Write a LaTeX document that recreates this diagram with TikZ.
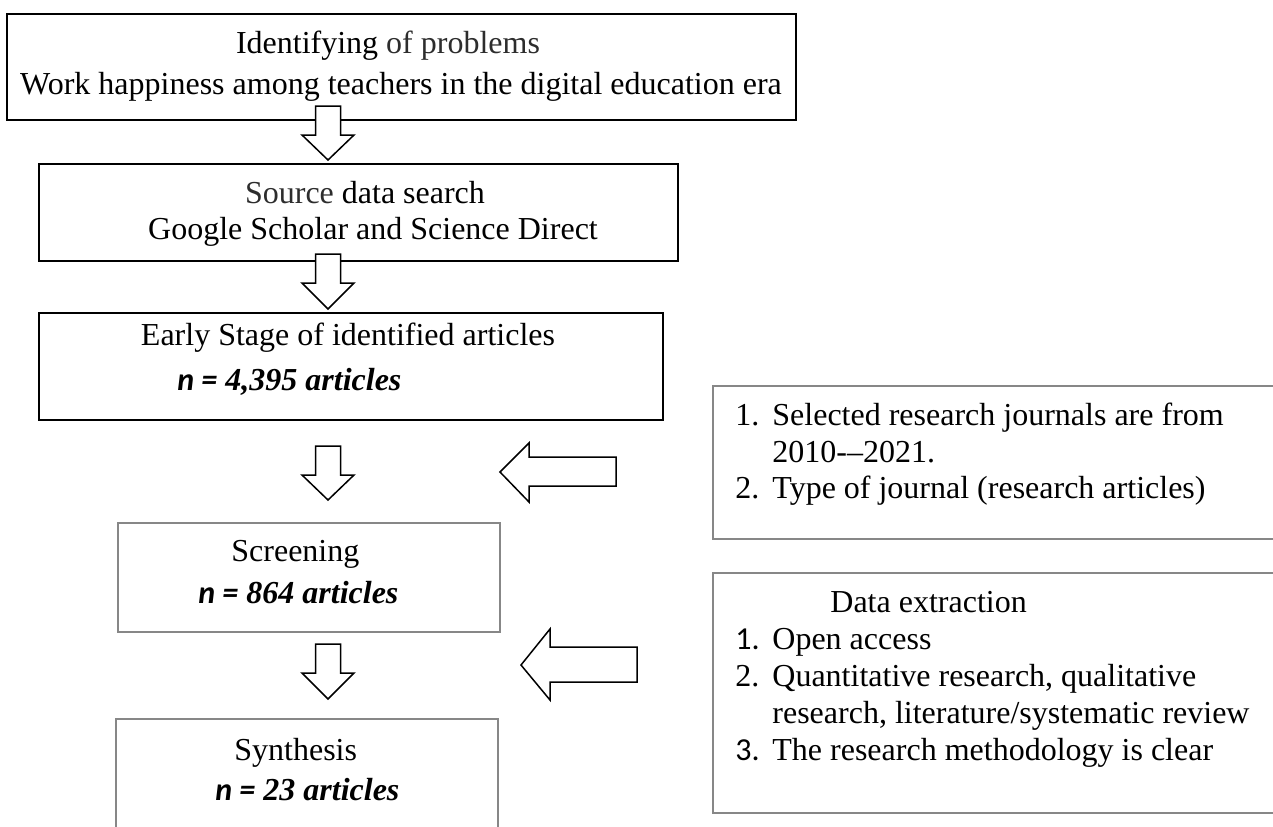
\documentclass[tikz,border=0pt]{standalone}
\usepackage{fontspec}
\setmainfont{Liberation Serif}
\newfontfamily\sansnum{Carlito}
\definecolor{boxgray}{RGB}{135,135,135}
\definecolor{softblack}{RGB}{45,45,45}
\begin{document}
\begin{tikzpicture}[x=0.5pt,y=-0.5pt,
  darkbox/.style={draw=black, line width=1.2pt, rectangle, inner sep=0pt, anchor=north west},
  blackbox/.style={draw=black, line width=1pt, rectangle, inner sep=0pt, anchor=north west},
  graybox/.style={draw=boxgray, line width=0.8pt, rectangle, inner sep=0pt, anchor=north west},
  txt/.style={inner sep=0pt, anchor=base, font=\fontsize{16}{19}\selectfont},
  ltxt/.style={txt, anchor=base west},
  blockarrow/.style={draw=black, fill=white, line width=0.75pt, line join=miter}
]
\useasboundingbox (0,0) rectangle (1273,826);
\clip (0,0) rectangle (1273,826);

% boxes
\node[darkbox, minimum width=394.5pt, minimum height=53pt] (b1) at (6,13) {};
\node[blackbox, minimum width=319.5pt, minimum height=48.5pt] (b2) at (38,163) {};
\node[blackbox, minimum width=312pt, minimum height=53.5pt] (b3) at (38,312) {};
\node[graybox, minimum width=191pt, minimum height=54.5pt] (b4) at (117,522) {};
\node[graybox, minimum width=191pt, minimum height=66pt] (b5) at (115,718) {};
\node[graybox, minimum width=289pt, minimum height=76.5pt] (r1) at (712,385) {};
\node[graybox, minimum width=289pt, minimum height=120pt] (r2) at (712,572) {};

% down block arrows
\draw[blockarrow] (315.5,106) -- (340.5,106) -- (340.5,135) -- (354,135) -- (328,160) -- (302,135) -- (315.5,135) -- cycle;
\draw[blockarrow] (315.5,254) -- (340.5,254) -- (340.5,283) -- (354,283) -- (328,309) -- (302,283) -- (315.5,283) -- cycle;
\draw[blockarrow] (315.5,446) -- (340.5,446) -- (340.5,475) -- (354,475) -- (328,500) -- (302,475) -- (315.5,475) -- cycle;
\draw[blockarrow] (315.5,644) -- (340.5,644) -- (340.5,673) -- (354,673) -- (328,699) -- (302,673) -- (315.5,673) -- cycle;

% left block arrows
\draw[blockarrow] (616,457) -- (616,486) -- (529,486) -- (529,502) -- (500,472) -- (529,443) -- (529,457) -- cycle;
\draw[blockarrow] (637,647) -- (637,682) -- (550,682) -- (550,700) -- (521,665) -- (550,629) -- (550,647) -- cycle;

% texts, left column
\node[txt] (t1a) at (388,53) {Identifying {\color{softblack}of problems}};
\node[txt] (t1b) at (401,94) {Work happiness among teachers in the digital education era};
\node[txt] (t2a) at (365,203) {{\color{softblack}Source} data search};
\node[txt] (t2b) at (373,239) {Google Scholar and Science Direct};
\node[txt] (t3a) at (348,345) {Early Stage of identified articles};
\node[ltxt] (t3b) at (177,390) {\bfseries\itshape {\sansnum n =} 4,395 articles};
\node[ltxt] (t4a) at (231,561) {Screening};
\node[ltxt] (t4b) at (198,603) {\bfseries\itshape {\sansnum n =} 864 articles};
\node[ltxt] (t5a) at (234,760) {Synthesis};
\node[ltxt] (t5b) at (215,800) {\bfseries\itshape {\sansnum n =} 23 articles};

% texts, right boxes
\node[ltxt] (r1n1) at (735,425) {1.};
\node[ltxt] (r1i1) at (772,425) {Selected research journals are from};
\node[ltxt] (r1i1b) at (772,462) {2010-{}\textendash{}2021.};
\node[ltxt] (r1n2) at (735,498) {2.};
\node[ltxt] (r1i2) at (772,498) {Type of journal (research articles)};

\node[ltxt] (r2h) at (830,612) {Data extraction};
\node[ltxt] (r2n1) at (735,649) {\sansnum 1.};
\node[ltxt] (r2i1) at (772,649) {Open access};
\node[ltxt] (r2n2) at (735,686) {2.};
\node[ltxt] (r2i2) at (772,686) {Quantitative research, qualitative};
\node[ltxt] (r2i2b) at (772,723) {research, literature/systematic review};
\node[ltxt] (r2n3) at (735,760) {\sansnum 3.};
\node[ltxt] (r2i3) at (772,760) {The research methodology is clear};
\end{tikzpicture}
\end{document}
